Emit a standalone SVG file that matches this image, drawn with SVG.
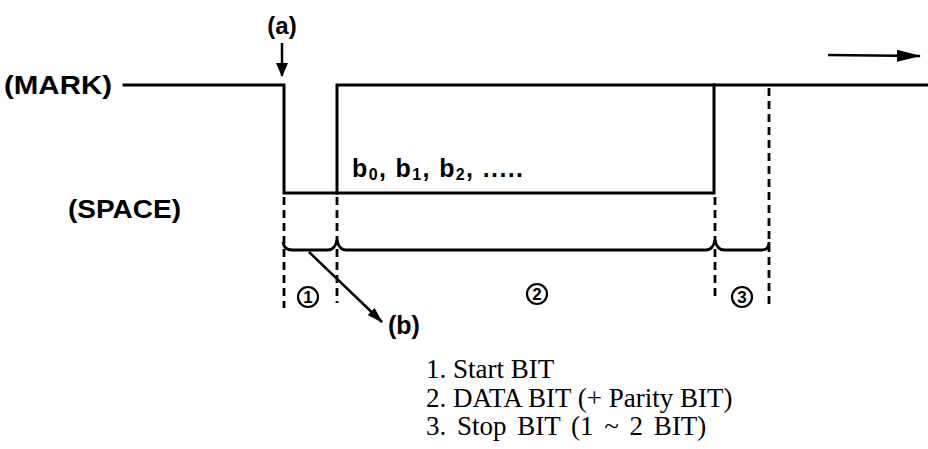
<svg xmlns="http://www.w3.org/2000/svg" width="928" height="449" viewBox="0 0 928 449">
<style>
.lbl{font-family:"Liberation Sans",Arial,sans-serif;font-weight:bold;fill:#000}
.leg{font-family:"Liberation Serif","Times New Roman",serif;font-size:27px;fill:#000}
.wave{fill:none;stroke:#000;stroke-width:3;stroke-linecap:square}
.dash{fill:none;stroke:#000;stroke-width:2.8;stroke-dasharray:8,5}
.brace{fill:none;stroke:#000;stroke-width:2.8}
.circ{fill:none;stroke:#000;stroke-width:2.2}
.num{font-family:"Liberation Sans",Arial,sans-serif;font-weight:bold;font-size:17px;text-anchor:middle;fill:#000}
</style>
<defs>
<marker id="ah" markerWidth="14" markerHeight="12" refX="13" refY="6" orient="auto" markerUnits="userSpaceOnUse">
<path d="M0,0 L14,6 L0,12 Z" fill="#000"/>
</marker>
<marker id="ahBig" markerWidth="24" markerHeight="12" refX="23" refY="6" orient="auto" markerUnits="userSpaceOnUse">
<path d="M0,0 L24,6 L0,12 Z" fill="#000"/>
</marker>
<marker id="ahDown" markerWidth="16" markerHeight="10" refX="15" refY="5" orient="auto" markerUnits="userSpaceOnUse">
<path d="M0,0 L16,5 L0,10 Z" fill="#000"/>
</marker>
</defs>

<g id="labels">
<text id="mark" class="lbl" x="4" y="94" font-size="25" textLength="108" lengthAdjust="spacingAndGlyphs">(MARK)</text>
<text id="space" class="lbl" x="68" y="218" font-size="25" textLength="113" lengthAdjust="spacingAndGlyphs">(SPACE)</text>
<text id="a" class="lbl" x="282" y="34" font-size="24" text-anchor="middle">(a)</text>
<text id="b" class="lbl" x="388" y="334" font-size="25">(b)</text>
<text id="bits" class="lbl" x="352" y="177" font-size="25" textLength="171">b<tspan font-size="16" dy="3">0</tspan><tspan dy="-3">, b</tspan><tspan font-size="16" dy="3">1</tspan><tspan dy="-3">, b</tspan><tspan font-size="16" dy="3">2</tspan><tspan dy="-3">, .....</tspan></text>
</g>

<g id="connectors">
<path id="waveform" class="wave" d="M124,85 H284 V193 H714 V85 H928"/>
<path id="dataBox" class="wave" d="M337,193 V85 H714"/>
<line class="dash" x1="284" y1="197" x2="284" y2="308"/>
<line class="dash" x1="337" y1="197" x2="337" y2="303"/>
<line class="dash" x1="715" y1="197" x2="715" y2="298"/>
<line class="dash" x1="769" y1="88" x2="769" y2="306"/>
<path id="braceLine" class="brace" d="M283,242 Q284,250 292,250 H328 Q335,250 337,240 Q339,250 346,250 H706 Q713,250 715,240 Q717,250 724,250 H762 Q769,250 769,242"/>
<line id="arrowA" stroke="#000" stroke-width="2.5" x1="282" y1="43" x2="282" y2="76" marker-end="url(#ah)"/>
<line id="arrowB" stroke="#000" stroke-width="2.5" x1="309" y1="252" x2="382" y2="322" marker-end="url(#ahDown)"/>
<line id="arrowDir" stroke="#000" stroke-width="2.5" x1="828" y1="55" x2="920" y2="56" marker-end="url(#ahBig)"/>
</g>

<g id="n1">
<circle class="circ" cx="308" cy="297" r="10"/>
<text class="num" x="308" y="303">1</text>
</g>
<g id="n2">
<circle class="circ" cx="537" cy="294" r="10"/>
<text class="num" x="537" y="300">2</text>
</g>
<g id="n3">
<circle class="circ" cx="742" cy="297" r="10"/>
<text class="num" x="742" y="303">3</text>
</g>

<g id="legend">
<text class="leg" x="426" y="378">1. Start BIT</text>
<text class="leg" x="426" y="407">2. DATA BIT (+ Parity BIT)</text>
<text class="leg" x="426" y="435" word-spacing="4">3. Stop BIT (1 ~ 2 BIT)</text>
</g>
</svg>
